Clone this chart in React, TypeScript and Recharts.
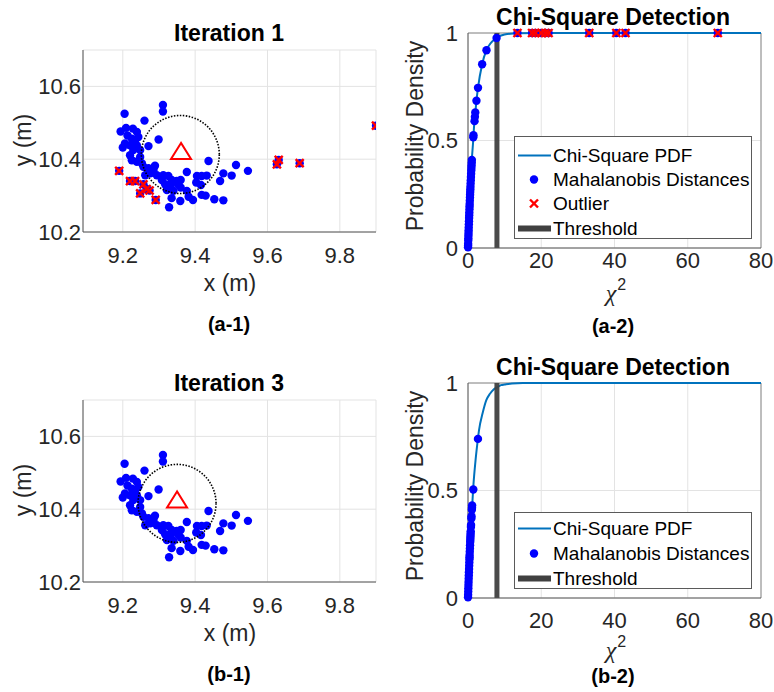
import { ComposedChart, Scatter, Line, XAxis, YAxis, CartesianGrid, ReferenceLine, ReferenceDot } from 'recharts'

// ---- scatter panels (a-1 / b-1), positions in metres ----
const inlierX = [
  9.311, 9.311, 9.205, 9.26, 9.194, 9.209, 9.228, 9.239, 9.213, 9.225, 9.243, 9.234, 9.206, 9.22, 9.2,
  9.239, 9.248, 9.229, 9.22, 9.225, 9.239, 9.248, 9.253, 9.299, 9.271, 9.257, 9.271, 9.289, 9.276, 9.294,
  9.262, 9.285, 9.437, 9.377, 9.312, 9.326, 9.308, 9.335, 9.349, 9.36, 9.317, 9.333, 9.354, 9.322, 9.34,
  9.36, 9.377, 9.405, 9.418, 9.432, 9.403, 9.416, 9.478, 9.501, 9.513, 9.546, 9.469, 9.335, 9.359, 9.382,
  9.394, 9.418, 9.429, 9.453, 9.478, 9.328,
]
const inlierY = [
  10.549, 10.531, 10.525, 10.506, 10.476, 10.486, 10.484, 10.475, 10.465, 10.456, 10.461, 10.447, 10.443, 10.438, 10.432,
  10.438, 10.425, 10.425, 10.411, 10.397, 10.393, 10.406, 10.388, 10.454, 10.436, 10.379, 10.375, 10.382, 10.361, 10.356,
  10.356, 10.37, 10.395, 10.365, 10.356, 10.354, 10.343, 10.343, 10.34, 10.343, 10.331, 10.329, 10.329, 10.315, 10.313,
  10.322, 10.313, 10.354, 10.354, 10.355, 10.336, 10.329, 10.361, 10.355, 10.384, 10.368, 10.34, 10.293, 10.285, 10.297,
  10.288, 10.302, 10.3, 10.29, 10.287, 10.268,
]
const outlierX = [9.19, 9.22, 9.234, 9.257, 9.266, 9.274, 9.248, 9.291, 9.626, 9.631, 9.689, 9.9]
const outlierY = [10.368, 10.34, 10.34, 10.331, 10.318, 10.314, 10.306, 10.288, 10.386, 10.398, 10.389, 10.492]

// estimated source position (triangle) and circle centre per iteration
const targetIter1 = [9.361, 10.42]
const circleIter1 = [9.359, 10.413]
const targetIter3 = [9.35, 10.424]
const circleIter3 = [9.35, 10.416]

const xTicksPos = [9.2, 9.4, 9.6, 9.8]
const yTicksPos = [10.2, 10.4, 10.6]

// ---- chi-square panels (a-2 / b-2) ----
const pdfA2X = [0, 0.3, 0.6, 1.0, 1.47, 1.5, 1.88, 2.0, 2.31, 2.73, 3.86, 5.05, 7.8, 10, 13.8, 20, 40, 68.6, 80]
const pdfA2Y = [0, 0.14, 0.26, 0.4, 0.515, 0.525, 0.61, 0.63, 0.685, 0.745, 0.855, 0.92, 0.977, 0.993, 0.999, 1, 1, 1, 1]
const mdA2X = [
  0.006, 0.024, 0.04, 0.071, 0.092, 0.12, 0.145, 0.171, 0.2, 0.233, 0.267, 0.302, 0.33, 0.361, 0.397, 0.429,
  0.459, 0.497, 0.536, 0.57, 0.602, 0.635, 0.671, 0.713, 0.757, 0.801, 0.846, 0.893, 0.932, 0.972, 1.015, 1.055,
  1.447, 1.489, 1.783, 1.883, 1.988, 2.311, 2.732, 3.862, 5.05, 7.8,
  13.5, 17.5, 18.4, 20, 21.1, 22, 33.1, 40.5, 43, 68.2,
]
const mdA2Y = [
  0.003, 0.012, 0.02, 0.035, 0.045, 0.058, 0.07, 0.082, 0.095, 0.11, 0.125, 0.14, 0.152, 0.165, 0.18, 0.193,
  0.205, 0.22, 0.235, 0.248, 0.26, 0.272, 0.285, 0.3, 0.315, 0.33, 0.345, 0.36, 0.372, 0.385, 0.398, 0.41,
  0.515, 0.525, 0.59, 0.61, 0.63, 0.685, 0.745, 0.855, 0.92, 0.977,
  1, 1, 1, 1, 1, 1, 1, 1, 1, 1,
]
const chiOutlierX = [13.5, 17.5, 18.4, 20, 21.1, 22, 33.1, 40.5, 43, 68.2]
const chiOutlierY = [1, 1, 1, 1, 1, 1, 1, 1, 1, 1]

const pdfB2X = [0, 0.25, 0.5, 0.75, 1, 1.5, 2, 2.5, 3, 4, 5, 6, 7, 8, 9, 10, 12, 15, 20, 80]
const pdfB2Y = [0, 0.12, 0.22, 0.31, 0.39, 0.53, 0.63, 0.71, 0.78, 0.86, 0.92, 0.95, 0.97, 0.98, 0.99, 0.993, 0.998, 1, 1, 1]
const mdB2X = [
  0.006, 0.03, 0.061, 0.092, 0.124, 0.156, 0.189, 0.222, 0.256, 0.29, 0.325, 0.361, 0.397, 0.421, 0.446, 0.484,
  0.523, 0.562, 0.602, 0.629, 0.657, 0.685, 0.713, 0.742, 0.801, 0.831, 0.924, 0.956, 1.055, 1.089, 1.124,
  1.45, 2.72,
]
const mdB2Y = [
  0.003, 0.015, 0.03, 0.045, 0.06, 0.075, 0.09, 0.105, 0.12, 0.135, 0.15, 0.165, 0.18, 0.19, 0.2, 0.215,
  0.23, 0.245, 0.26, 0.27, 0.28, 0.29, 0.3, 0.31, 0.33, 0.34, 0.37, 0.38, 0.41, 0.42, 0.43,
  0.505, 0.74,
]
const threshold = 7.9

const xTicksChi = [0, 20, 40, 60, 80]
const yTicksChi = [0, 0.5, 1]

const zip = (xs: number[], ys: number[]) => xs.map((x, i) => ({ x, y: ys[i] }))

const FONT = '"Liberation Sans", Arial, sans-serif'
const INK = '#262626'
const BLUE = '#0000ff'
const RED = '#ff0000'
const CURVE = '#0072bd'
const THRESH = '#404040'

const BlueDot = (p: any) => <circle cx={p.cx} cy={p.cy} r={4.2} fill={BLUE} />
const RedCross = (p: any) => (
  <g stroke={RED} strokeWidth={2.4}>
    <line x1={p.cx - 4} y1={p.cy - 4} x2={p.cx + 4} y2={p.cy + 4} />
    <line x1={p.cx - 4} y1={p.cy + 4} x2={p.cx + 4} y2={p.cy - 4} />
  </g>
)
const Triangle = (p: any) => (
  <polygon
    points={`${p.cx},${p.cy - 9} ${p.cx - 10},${p.cy + 7} ${p.cx + 10},${p.cy + 7}`}
    fill="none"
    stroke={RED}
    strokeWidth={2}
  />
)

const Text = ({ x, y, size, bold, rotate, children }: any) => (
  <div
    style={{
      position: 'absolute', left: x, top: y, fontSize: size, fontWeight: bold ? 700 : 400,
      transform: `translate(-50%, -50%)${rotate ? ' rotate(-90deg)' : ''}`,
      whiteSpace: 'nowrap', color: bold ? '#000' : INK, lineHeight: 1,
    }}
  >
    {children}
  </div>
)

function PositionPanel({ top, target, circle, outliers, title, tag }: any) {
  return (
    <>
      <div style={{ position: 'absolute', left: 0, top }}>
        <ComposedChart width={390} height={320} margin={{ top: 50, right: 14, left: 0, bottom: 0 }}>
          <CartesianGrid stroke="#e3e3e3" />
          <XAxis type="number" dataKey="x" domain={[9.09, 9.9]} ticks={xTicksPos} height={88} tickSize={0} tickMargin={15}
            allowDataOverflow tick={{ fill: INK, fontSize: 22, fontFamily: FONT }} axisLine={{ stroke: '#555' }} />
          <YAxis type="number" dataKey="y" domain={[10.2, 10.7]} ticks={yTicksPos} width={83} tickSize={0} tickMargin={2}
            allowDataOverflow tick={{ fill: INK, fontSize: 22, fontFamily: FONT }} axisLine={{ stroke: '#555' }} />
          <Scatter data={zip(inlierX, inlierY)} shape={BlueDot} isAnimationActive={false} />
          {outliers && <Scatter data={zip(outlierX, outlierY)} shape={BlueDot} isAnimationActive={false} />}
          {outliers && <Scatter data={zip(outlierX, outlierY)} shape={RedCross} isAnimationActive={false} />}
          <ReferenceDot x={circle[0]} y={circle[1]} r={39} fill="none" stroke="#000" strokeWidth={1.6} strokeDasharray="1.5 1.5" />
          <Scatter data={[{ x: target[0], y: target[1] }]} shape={Triangle} isAnimationActive={false} />
        </ComposedChart>
      </div>
      <Text x={229} y={top + 33} size={23} bold>{title}</Text>
      <Text x={23} y={top + 140} size={23} rotate>y (m)</Text>
      <Text x={230} y={top + 283} size={23}>x (m)</Text>
      <Text x={229} y={top + 324} size={20} bold>{tag}</Text>
    </>
  )
}

function Legend({ left, top, height, rows }: any) {
  return (
    <div style={{ position: 'absolute', left, top, width: 238, height, background: '#fff', border: '1px solid #5a5a5a', boxSizing: 'border-box' }}>
      {rows.map((r: any) => (
        <div key={r.label} style={{ position: 'absolute', left: 0, top: r.y, transform: 'translateY(-50%)', display: 'flex', alignItems: 'center' }}>
          <svg width={38} height={14} style={{ display: 'block' }}>
            {r.kind === 'line' && <line x1={3} y1={7} x2={36} y2={7} stroke={CURVE} strokeWidth={2} />}
            {r.kind === 'dot' && <circle cx={19} cy={7} r={4.2} fill={BLUE} />}
            {r.kind === 'cross' && (
              <g stroke={RED} strokeWidth={2.4}>
                <line x1={15} y1={3} x2={23} y2={11} />
                <line x1={15} y1={11} x2={23} y2={3} />
              </g>
            )}
            {r.kind === 'thick' && <line x1={3} y1={7} x2={36} y2={7} stroke={THRESH} strokeWidth={6} />}
          </svg>
          <span style={{ fontSize: 19, color: '#000', lineHeight: 1 }}>{r.label}</span>
        </div>
      ))}
    </div>
  )
}

function ChiPanel({ top, curve, md, outliers, xTickMargin, tag, xLabelY, legend }: any) {
  return (
    <>
      <div style={{ position: 'absolute', left: 390, top }}>
        <ComposedChart width={384} height={320} margin={{ top: 33, right: 13, left: 0, bottom: 0 }}>
          <CartesianGrid stroke="#e3e3e3" />
          <ReferenceLine y={1} stroke="#8a8a8a" />
          <ReferenceLine x={80} stroke="#8a8a8a" />
          <XAxis type="number" dataKey="x" domain={[0, 80]} ticks={xTicksChi} height={72} tickSize={0} tickMargin={xTickMargin}
            tick={{ fill: INK, fontSize: 22, fontFamily: FONT }} axisLine={{ stroke: '#555' }} />
          <YAxis type="number" dataKey="y" domain={[0, 1]} ticks={yTicksChi} width={78} tickSize={0} tickMargin={10}
            tick={{ fill: INK, fontSize: 22, fontFamily: FONT }} axisLine={{ stroke: '#555' }} />
          <Line data={curve} dataKey="y" type="monotone" stroke={CURVE} strokeWidth={2} dot={false} isAnimationActive={false} />
          <Scatter data={md} shape={BlueDot} isAnimationActive={false} />
          {outliers && <Scatter data={outliers} shape={RedCross} isAnimationActive={false} />}
          <ReferenceLine x={threshold} stroke={THRESH} strokeWidth={5} strokeOpacity={0.95} />
        </ComposedChart>
      </div>
      <Text x={613} y={top + 17} size={23} bold>Chi-Square Detection</Text>
      <Text x={415} y={top + 136} size={23} rotate>Probability Density</Text>
      <div style={{ position: 'absolute', left: 616, top: top + xLabelY, transform: 'translate(-50%, -50%)', whiteSpace: 'nowrap', color: INK, lineHeight: 1 }}>
        <span style={{ fontSize: 24, fontStyle: 'italic', fontFamily: '"Liberation Serif", serif' }}>χ</span>
        <span style={{ fontSize: 16, position: 'relative', top: -11, marginLeft: 1 }}>2</span>
      </div>
      <Legend {...legend} />
      <Text x={613} y={top + 326} size={20} bold>{tag}</Text>
    </>
  )
}

export default function App() {
  return (
    <div style={{ position: 'absolute', left: 0, top: 0, width: 774, height: 692, background: '#fff', fontFamily: FONT, overflow: 'hidden' }}>
      <PositionPanel top={0} target={targetIter1} circle={circleIter1} outliers title="Iteration 1" tag="(a-1)" />
      <PositionPanel top={350} target={targetIter3} circle={circleIter3} outliers={false} title="Iteration 3" tag="(b-1)" />
      <ChiPanel
        top={0}
        curve={zip(pdfA2X, pdfA2Y)}
        md={zip(mdA2X, mdA2Y)}
        outliers={zip(chiOutlierX, chiOutlierY)}
        xTickMargin={4}
        xLabelY={293}
        tag="(a-2)"
        legend={{
          left: 514, top: 136, height: 103,
          rows: [
            { kind: 'line', label: 'Chi-Square PDF', y: 18 },
            { kind: 'dot', label: 'Mahalanobis Distances', y: 42 },
            { kind: 'cross', label: 'Outlier', y: 66 },
            { kind: 'thick', label: 'Threshold', y: 91 },
          ],
        }}
      />
      <ChiPanel
        top={350}
        curve={zip(pdfB2X, pdfB2Y)}
        md={zip(mdB2X, mdB2Y)}
        outliers={null}
        xTickMargin={14}
        xLabelY={300}
        tag="(b-2)"
        legend={{
          left: 514, top: 512, height: 77,
          rows: [
            { kind: 'line', label: 'Chi-Square PDF', y: 15 },
            { kind: 'dot', label: 'Mahalanobis Distances', y: 40 },
            { kind: 'thick', label: 'Threshold', y: 65 },
          ],
        }}
      />
    </div>
  )
}
